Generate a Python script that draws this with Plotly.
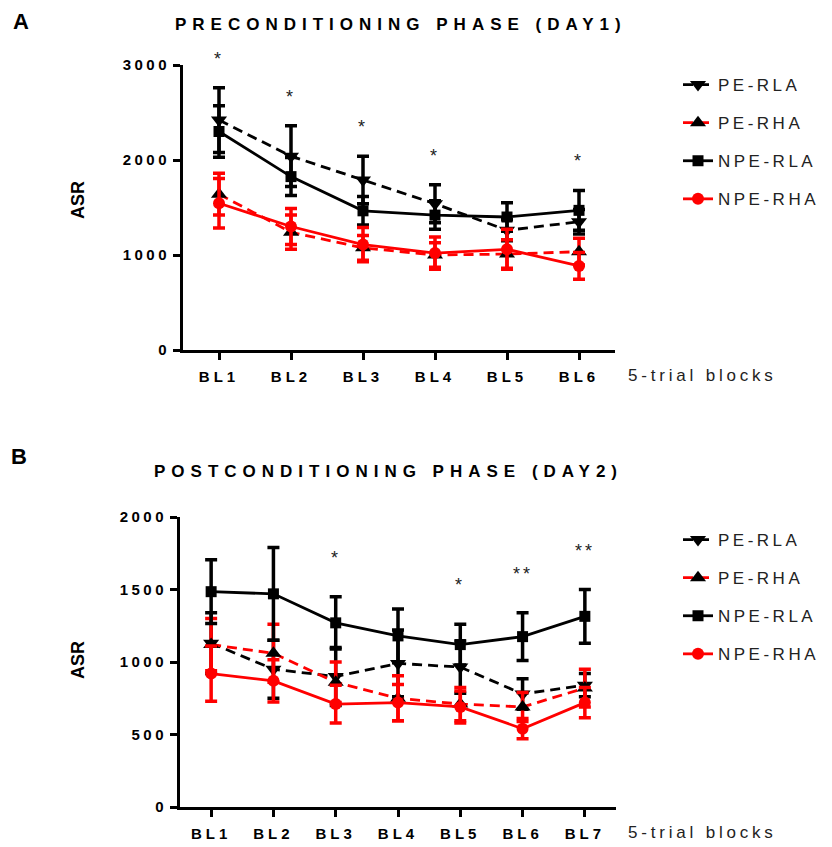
import plotly.graph_objects as go

# ---------------- data ----------------
BLOCKS_DAY1 = ["BL1", "BL2", "BL3", "BL4", "BL5", "BL6"]
BLOCKS_DAY2 = ["BL1", "BL2", "BL3", "BL4", "BL5", "BL6", "BL7"]
SERIES = ["PE-RLA", "PE-RHA", "NPE-RLA", "NPE-RHA"]

# Day 1 (preconditioning): mean ASR and SEM per 5-trial block
pe_rla_day1 = [2420, 2040, 1790, 1540, 1260, 1350]
pe_rla_day1_sem = [340, 320, 250, 200, 110, 130]
pe_rha_day1 = [1640, 1240, 1075, 1000, 1010, 1035]
pe_rha_day1_sem = [220, 180, 130, 130, 150, 140]
npe_rla_day1 = [2300, 1825, 1465, 1420, 1400, 1470]
npe_rla_day1_sem = [270, 200, 150, 150, 150, 210]
npe_rha_day1 = [1545, 1300, 1110, 1020, 1060, 885]
npe_rha_day1_sem = [260, 190, 180, 170, 210, 140]
sig_day1 = ["*", "*", "*", "*", "", "*"]

# Day 2 (postconditioning)
pe_rla_day2 = [1130, 950, 900, 990, 965, 780, 840]
pe_rla_day2_sem = [210, 200, 200, 230, 180, 105, 80]
pe_rha_day2 = [1120, 1060, 860, 750, 710, 690, 820]
pe_rha_day2_sem = [180, 200, 140, 155, 115, 100, 130]
npe_rla_day2 = [1485, 1470, 1270, 1180, 1120, 1175, 1315]
npe_rla_day2_sem = [220, 320, 180, 185, 140, 165, 185]
npe_rha_day2 = [920, 870, 710, 720, 690, 540, 720]
npe_rha_day2_sem = [190, 145, 130, 125, 110, 70, 105]
sig_day2 = ["", "", "*", "", "*", "**", "**"]

YTICKS_DAY1 = [0, 1000, 2000, 3000]
YTICKS_DAY2 = [0, 500, 1000, 1500, 2000]

TITLE_DAY1 = "PRECONDITIONING PHASE (DAY1)"
TITLE_DAY2 = "POSTCONDITIONING PHASE (DAY2)"
Y_LABEL = "ASR"
X_LABEL = "5-trial blocks"

# ---------------- styling ----------------
FONT = "Arial, 'Liberation Sans', sans-serif"
W, H = 832, 847

STYLE = {
    "PE-RLA": dict(line=dict(color="black", width=2.8, dash="10px,6px"),
                   marker=dict(symbol="triangle-down", size=14, color="black"),
                   err="black"),
    "PE-RHA": dict(line=dict(color="#ff0000", width=2.8, dash="10px,6px"),
                   marker=dict(symbol="triangle-up", size=14, color="black"),
                   err="#ff0000"),
    "NPE-RLA": dict(line=dict(color="black", width=2.8),
                    marker=dict(symbol="square", size=11, color="black"),
                    err="black"),
    "NPE-RHA": dict(line=dict(color="#ff0000", width=2.8),
                    marker=dict(symbol="circle", size=12, color="#ff0000"),
                    err="#ff0000"),
}


def spaced(text, px):
    return f'<span style="letter-spacing:{px}px">{text}</span>'


def px_x(px):
    return px / W


def px_y(py):
    return 1 - py / H


fig = go.Figure()

panels = [
    dict(blocks=BLOCKS_DAY1, xa="x", ya="y", legend="legend",
         means=[pe_rla_day1, pe_rha_day1, npe_rla_day1, npe_rha_day1],
         sems=[pe_rla_day1_sem, pe_rha_day1_sem, npe_rla_day1_sem, npe_rha_day1_sem],
         sig=sig_day1, sig_shift=29),
    dict(blocks=BLOCKS_DAY2, xa="x2", ya="y2", legend="legend2",
         means=[pe_rla_day2, pe_rha_day2, npe_rla_day2, npe_rha_day2],
         sems=[pe_rla_day2_sem, pe_rha_day2_sem, npe_rla_day2_sem, npe_rha_day2_sem],
         sig=sig_day2, sig_shift=39),
]

annotations = []
for p in panels:
    xs = list(range(len(p["blocks"])))
    for name, m, s in zip(SERIES, p["means"], p["sems"]):
        st = STYLE[name]
        fig.add_trace(go.Scatter(
            x=xs, y=m, name=spaced(name, 3.5), mode="lines+markers",
            xaxis=p["xa"], yaxis=p["ya"], legend=p["legend"],
            legendgroup=p["legend"] + name,
            line=st["line"], marker=st["marker"],
            error_y=dict(type="data", array=s, visible=True, color=st["err"],
                         thickness=3.5, width=6),
            cliponaxis=False,
        ))
    # significance marks above the highest error bar of each block
    for i, mark in enumerate(p["sig"]):
        if not mark:
            continue
        top = max(mm[i] + ss[i] for mm, ss in zip(p["means"], p["sems"]))
        annotations.append(dict(
            x=xs[i], y=top, yshift=p["sig_shift"], xref=p["xa"], yref=p["ya"],
            text=spaced(mark, 3), showarrow=False, yanchor="middle",
            font=dict(family=FONT, size=18, color="#222")))

axis_common = dict(showline=True, linewidth=3, linecolor="black", mirror=False,
                   ticks="outside", ticklen=7, tickwidth=3, tickcolor="black",
                   showgrid=False, zeroline=False, fixedrange=True,
                   automargin=False)
tickfont = dict(family=FONT, size=15, color="black", weight="bold")

legend_common = dict(xanchor="left", yanchor="top",
                     font=dict(family=FONT, size=17, color="#222"),
                     traceorder="grouped", tracegroupgap=13, itemwidth=30,
                     bgcolor="rgba(0,0,0,0)")

fig.update_layout(
    width=W, height=H, margin=dict(l=0, r=0, t=0, b=0, autoexpand=False),
    paper_bgcolor="white", plot_bgcolor="white",
    xaxis=dict(domain=[px_x(183), px_x(615)], anchor="y", range=[-0.5, 5.5],
               tickvals=list(range(len(BLOCKS_DAY1))),
               ticktext=[spaced(b, 4) for b in BLOCKS_DAY1],
               tickfont=tickfont, ticklabelstandoff=4, **axis_common),
    yaxis=dict(domain=[px_y(350), px_y(65)], anchor="x", range=[0, 3000],
               tickvals=YTICKS_DAY1, ticktext=[spaced(str(v), 3.5) for v in YTICKS_DAY1],
               tickfont=tickfont, **axis_common),
    xaxis2=dict(domain=[px_x(180), px_x(616)], anchor="y2", range=[-0.5, 6.5],
                tickvals=list(range(len(BLOCKS_DAY2))),
                ticktext=[spaced(b, 4) for b in BLOCKS_DAY2],
                tickfont=tickfont, ticklabelstandoff=4, **axis_common),
    yaxis2=dict(domain=[px_y(807), px_y(517)], anchor="x2", range=[0, 2000],
                tickvals=YTICKS_DAY2, ticktext=[spaced(str(v), 3.5) for v in YTICKS_DAY2],
                tickfont=tickfont, **axis_common),
    legend=dict(x=px_x(678), y=px_y(67), **legend_common),
    legend2=dict(x=px_x(678), y=px_y(522), **legend_common),
)

label_font_bold = dict(family=FONT, color="black", weight="bold")
texts = [
    # panel letters
    dict(x=px_x(11), y=px_y(21), text="A", xanchor="left",
         font=dict(size=22, **label_font_bold)),
    dict(x=px_x(9), y=px_y(456), text="B", xanchor="left",
         font=dict(size=22, **label_font_bold)),
    # panel titles
    dict(x=px_x(401), y=px_y(25), text=spaced(TITLE_DAY1, 6), xanchor="center",
         font=dict(size=17, **label_font_bold)),
    dict(x=px_x(388), y=px_y(471), text=spaced(TITLE_DAY2, 6), xanchor="center",
         font=dict(size=17, **label_font_bold)),
    # y-axis titles
    dict(x=px_x(78), y=px_y(200), text=Y_LABEL, textangle=-90, xanchor="center",
         font=dict(size=18, **label_font_bold)),
    dict(x=px_x(78), y=px_y(660), text=Y_LABEL, textangle=-90, xanchor="center",
         font=dict(size=18, **label_font_bold)),
    # x-axis titles
    dict(x=px_x(626), y=px_y(375), text=spaced(X_LABEL, 3.8), xanchor="left",
         font=dict(family=FONT, size=17, color="#222")),
    dict(x=px_x(626), y=px_y(832), text=spaced(X_LABEL, 3.8), xanchor="left",
         font=dict(family=FONT, size=17, color="#222")),
]
for t in texts:
    t.update(xref="paper", yref="paper", showarrow=False, yanchor="middle")
    annotations.append(t)

fig.update_layout(annotations=annotations)

fig.write_html("out.html", config=dict(displayModeBar=False))
